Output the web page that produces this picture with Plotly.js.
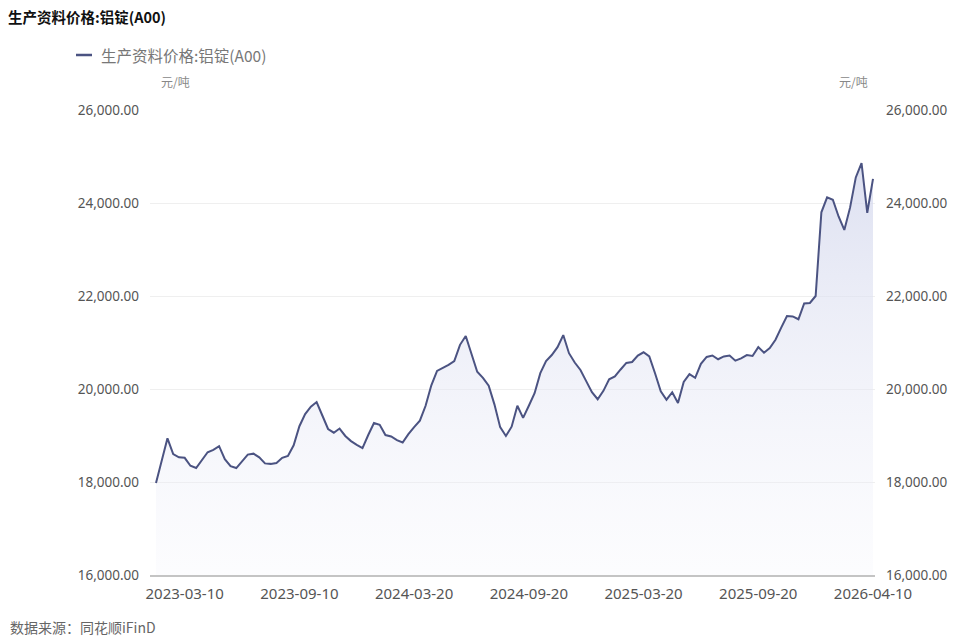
<!DOCTYPE html>
<html><head><meta charset="utf-8">
<script src="https://cdn.plot.ly/plotly-3.0.1.min.js"></script>
<style>html,body{margin:0;padding:0;background:#fff}#chart{width:967px;height:636px}</style>
</head><body><div id="chart"></div>
<script>
const chartTitle = '生产资料价格:铝锭(A00)';
const seriesName = '生产资料价格:铝锭(A00)';
const unitLabel = '元/吨';
const sourceText = '数据来源：同花顺iFinD';
const tickDates = ['2023-03-10','2023-09-10','2024-03-20','2024-09-20','2025-03-20','2025-09-20','2026-04-10'];
const tickIndex = [5,25,45,65,85,105,125];
const yTicks = [16000,18000,20000,22000,24000,26000];
const prices = [
17980,18440,18940,18600,18530,18520,18350,18300,18470,18640,
18690,18770,18490,18340,18300,18450,18590,18610,18530,18400,
18390,18410,18520,18560,18790,19200,19460,19620,19720,19430,
19140,19060,19150,18990,18880,18800,18730,19010,19270,19230,
19010,18980,18900,18850,19030,19180,19320,19640,20080,20390,
20450,20520,20600,20950,21140,20760,20370,20240,20070,19670,
19180,18990,19190,19640,19380,19640,19910,20340,20600,20730,
20900,21160,20770,20570,20410,20170,19930,19780,19960,20210,
20270,20420,20560,20580,20720,20790,20700,20340,19950,19770,
19930,19700,20150,20320,20240,20540,20690,20720,20640,20700,
20720,20610,20660,20730,20710,20900,20780,20880,21060,21320,
21570,21560,21500,21840,21850,22000,23800,24120,24070,23710,
23420,23900,24550,24860,23790,24520];

// category labels: dates placed between the labelled anchor dates
function buildDates(n){
  const ms = tickDates.map(d => Date.parse(d + 'T00:00:00Z'));
  const out = [];
  for(let i=0;i<n;i++){
    let k = 0;
    while(k < tickIndex.length-2 && i > tickIndex[k+1]) k++;
    const t = (i - tickIndex[k]) / (tickIndex[k+1] - tickIndex[k]);
    const v = ms[k] + t * (ms[k+1] - ms[k]);
    const d = new Date(Math.round(v / 86400000) * 86400000);
    out.push(d.toISOString().slice(0,10));
  }
  return out;
}
const dates = buildDates(prices.length);

const L = 150, R = 875, T = 110, B = 575, W = 967, H = 636;
const px = x => (x - L) / (R - L);
const py = y => (B - y) / (B - T);
const lineColor = '#4b5382';
const fontFam = 'Noto Sans, Noto Sans CJK SC, sans-serif';
const cjkFam = 'Noto Sans CJK SC, Noto Sans, sans-serif';

const traces = [
  {x: dates, y: prices, type: 'scatter', mode: 'lines', name: seriesName,
   line: {color: lineColor, width: 2}, fill: 'tozeroy',
   fillgradient: {type: 'vertical', start: 16000, stop: 25000,
     colorscale: [[0, 'rgba(240,241,250,0.2)'], [1, 'rgba(212,216,237,0.8)']]},
   showlegend: false},
  {x: dates, y: prices, type: 'scatter', mode: 'lines', yaxis: 'y2',
   line: {color: 'rgba(0,0,0,0)', width: 0}, hoverinfo: 'skip', showlegend: false}
];

const yCommon = {range: [16000, 26000], tickvals: yTicks, tickformat: ',.2f',
  ticks: '', zeroline: false, tickfont: {size: 13.5, color: '#555', family: fontFam},
  ticklabelstandoff: 10, fixedrange: true};

const layout = {
  width: W, height: H, paper_bgcolor: '#fff', plot_bgcolor: '#fff',
  margin: {l: L, r: W - R, t: T, b: H - B, pad: 0},
  font: {family: fontFam, color: '#555'},
  title: {text: '<b>' + chartTitle + '</b>', x: 8 / W, xanchor: 'left',
    y: 1 - 18 / H, yanchor: 'middle', xref: 'container', yref: 'container',
    font: {size: 14.5, color: '#111', family: cjkFam}},
  showlegend: false,
  xaxis: {type: 'category', range: [-6 / 5.736, 125 + 2 / 5.736],
    tickvals: tickDates, ticktext: tickDates, showgrid: false, zeroline: false,
    showline: true, linecolor: '#c4c4c4', linewidth: 2, ticks: '',
    ticklabelstandoff: 4, tickfont: {size: 15, color: '#555', family: fontFam}},
  yaxis: Object.assign({}, yCommon, {side: 'left', showgrid: true, gridcolor: '#efefef', gridwidth: 1}),
  yaxis2: Object.assign({}, yCommon, {side: 'right', overlaying: 'y', showgrid: false}),
  shapes: [
    {type: 'line', xref: 'paper', yref: 'paper', x0: px(76), x1: px(92), y0: py(55), y1: py(55),
     line: {color: lineColor, width: 2.5}}
  ],
  annotations: [
    {text: seriesName, xref: 'paper', yref: 'paper', x: px(99), y: py(55), xanchor: 'left', yanchor: 'middle',
     showarrow: false, font: {size: 15.5, color: '#777', family: cjkFam}},
    {text: unitLabel, xref: 'paper', yref: 'paper', x: px(175), y: py(82), xanchor: 'center', yanchor: 'middle',
     showarrow: false, font: {size: 12, color: '#888', family: cjkFam}},
    {text: unitLabel, xref: 'paper', yref: 'paper', x: px(853), y: py(82), xanchor: 'center', yanchor: 'middle',
     showarrow: false, font: {size: 12, color: '#888', family: cjkFam}},
    {text: sourceText, xref: 'paper', yref: 'paper', x: px(8), y: py(627), xanchor: 'left', yanchor: 'middle',
     showarrow: false, font: {size: 14, color: '#666', family: cjkFam}}
  ]
};

Plotly.newPlot('chart', traces, layout, {displayModeBar: false, staticPlot: true});
</script></body></html>
